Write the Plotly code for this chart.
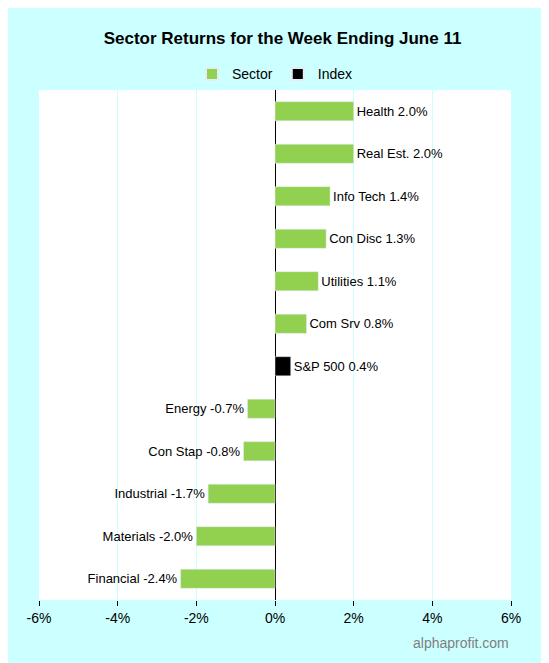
import plotly.graph_objects as go

sectors = ["Health", "Real Est.", "Info Tech", "Con Disc", "Utilities", "Com Srv",
           "Energy", "Con Stap", "Industrial", "Materials", "Financial"]
sector_returns = [2.0, 2.0, 1.4, 1.3, 1.1, 0.8, -0.7, -0.8, -1.7, -2.0, -2.4]
index_name = "S&P 500"
index_return = 0.4
order = ["Health", "Real Est.", "Info Tech", "Con Disc", "Utilities", "Com Srv",
         "S&P 500", "Energy", "Con Stap", "Industrial", "Materials", "Financial"]
tick_vals = [-6, -4, -2, 0, 2, 4, 6]
tick_text = ["-6%", "-4%", "-2%", "0%", "2%", "4%", "6%"]

fig = go.Figure()
fig.add_trace(go.Bar(
    y=sectors, x=sector_returns, orientation="h", name="Sector",
    marker_color="#92d050", width=0.45,
    text=[f"{s} {v:.1f}%" for s, v in zip(sectors, sector_returns)],
    textposition="outside", cliponaxis=False,
    textfont=dict(size=13, color="black"),
))
fig.add_trace(go.Bar(
    y=[index_name], x=[index_return], orientation="h", name="Index",
    marker_color="black", width=0.45,
    text=[f"{index_name} {index_return:.1f}%"],
    textposition="outside", cliponaxis=False,
    textfont=dict(size=13, color="black"),
))

fig.update_layout(
    width=549, height=663,
    paper_bgcolor="#ccffff", plot_bgcolor="white",
    font=dict(family="Liberation Sans, Arial", size=13, color="black"),
    title=dict(text="<b>Sector Returns for the Week Ending June 11</b>",
               x=0.5, y=0.955, xanchor="center", yanchor="middle",
               font=dict(size=17)),
    legend=dict(orientation="h", x=0.5, xanchor="center",
                yref="container", y=0.9, yanchor="middle",
                font=dict(size=14), bgcolor="rgba(0,0,0,0)", itemsizing="constant"),
    margin=dict(l=31, r=46, t=82, b=71, autoexpand=False),
    barmode="overlay",
    showlegend=True,
)
fig.update_xaxes(range=[-6, 6], tickvals=tick_vals, ticktext=tick_text,
                 showgrid=True, gridcolor="#ccffff", zeroline=True,
                 zerolinecolor="black", zerolinewidth=1,
                 ticks="outside", ticklen=5, tickcolor="black",
                 tickfont=dict(size=14))
fig.update_yaxes(categoryorder="array", categoryarray=order, autorange="reversed",
                 showticklabels=False, showgrid=False)
fig.add_annotation(text="alphaprofit.com", xref="paper", yref="paper",
                   x=1.0, y=-0.085, xanchor="right", yanchor="middle",
                   showarrow=False, font=dict(size=14, color="#808080"))

fig.write_html("out.html")
